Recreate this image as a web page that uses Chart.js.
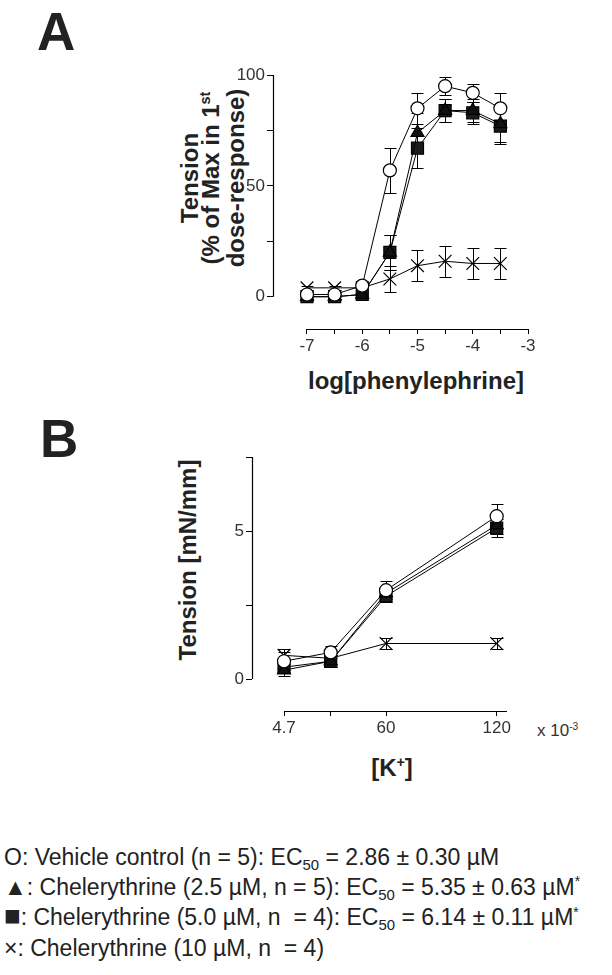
<!DOCTYPE html>
<html>
<head>
<meta charset="utf-8">
<script src="https://cdn.jsdelivr.net/npm/chart.js@4.4.0/dist/chart.umd.min.js"></script>
<style>
  html, body { margin: 0; padding: 0; background: #fff; }
  body { width: 612px; height: 975px; position: relative; overflow: hidden;
         font-family: "Liberation Sans", Arial, sans-serif; color: #000; }
  .abs { position: absolute; white-space: nowrap; }
  .letter { font-size: 53px; font-weight: bold; line-height: 1; color: #222; }
  .title { font-size: 24px; font-weight: bold; line-height: 1; color: #222; }
  .sup { font-size: 60%; position: relative; top: -0.6em; }
  .sub { font-size: 65%; position: relative; top: 0.35em; }
  .legend { left: 4px; top: 844px; font-size: 23px; line-height: 27.5px; color: #222; }
  canvas { position: absolute; left: 0; }
</style>
</head>
<body>

<div class="abs letter" style="left:37px; top:5px;">A</div>
<div class="abs letter" style="left:40px; top:412px;">B</div>

<!-- panel A y title, three lines rotated -->
<div class="abs title" style="left:212px; top:178px; line-height:21px; text-align:center;
     transform: translate(-50%, -50%) rotate(-90deg);">
  Tension<br>(% of Max in 1<span class="sup">st</span><br>dose-response)
</div>
<div class="abs title" style="left:416px; top:381px; transform: translate(-50%, -50%);">log[phenylephrine]</div>

<div class="abs title" style="left:188px; top:560px; transform: translate(-50%, -50%) rotate(-90deg);">Tension [mN/mm]</div>
<div class="abs title" style="left:392px; top:768px; transform: translate(-50%, -50%);">[K<span class="sup">+</span>]</div>
<div class="abs" style="left:537px; top:721px; font-size:17px; color:#333;">x 10<span class="sup">-3</span></div>

<canvas id="chartA" width="612" height="400" style="top:0;"></canvas>
<canvas id="chartB" width="612" height="400" style="top:400px;"></canvas>

<div class="abs legend">
  O: Vehicle control (n = 5): EC<span class="sub">50</span> = 2.86 ± 0.30 µM<br>
  ▲: Chelerythrine (2.5 µM, n = 5): EC<span class="sub">50</span> = 5.35 ± 0.63 µM<span class="sup">*</span><br>
  <span style="font-size:120%; line-height:0;">■</span>: Chelerythrine (5.0 µM, n&nbsp; = 4): EC<span class="sub">50</span> = 6.14 ± 0.11 µM<span class="sup">*</span><br>
  ×: Chelerythrine (10 µM, n&nbsp; = 4)
</div>

<script>
// ---- Panel A: phenylephrine dose-response ----
const logPE = [-7, -6.5, -6, -5.5, -5, -4.5, -4, -3.5];
const vehA = [1, 1, 5, 57, 85, 95, 92, 85];
const vehAErr = [1, 1, 2, 10, 7, 4, 4, 7];
const che25A = [0, 0, 1, 20, 74, 84, 84, 78];
const che25AErr = [1, 1, 1, 8, 9, 5, 5, 8];
const che50A = [0, 0, 1, 20, 67, 84, 83, 77];
const che50AErr = [1, 1, 1, 8, 9, 5, 5, 8];
const che10A = [4, 4, 4, 8, 14, 16, 15, 15];
const che10AErr = [1, 1, 1, 6, 7, 7, 7, 7];
const xTicksA = [-7, -6.5, -6, -5.5, -5, -4.5, -4, -3.5, -3];
const yTicksA = [0, 25, 50, 75, 100];

// ---- Panel B: KCl ----
const kConc = [4.7, 30, 60, 120];
const vehB = [0.6, 0.9, 3.0, 5.5];
const vehBErr = [0.3, 0.2, 0.3, 0.4];
const che25B = [0.3, 0.6, 2.9, 5.2];
const che25BErr = [0.2, 0.2, 0.2, 0.3];
const che50B = [0.4, 0.6, 2.8, 5.1];
const che50BErr = [0.2, 0.2, 0.2, 0.3];
const che10B = [0.8, 0.7, 1.2, 1.2];
const che10BErr = [0.2, 0.2, 0.2, 0.2];
const xTicksB = [4.7, 30, 60, 120];
const yTicksB = [0, 2.5, 5, 7.5];

// error bars drawn under the markers
const errorBarPlugin = {
    id: 'errorBars',
    beforeDatasetsDraw(chart) {
        const ctx = chart.ctx;
        const xs = chart.scales.x, ys = chart.scales.y;
        const cap = 6;
        ctx.save();
        ctx.strokeStyle = '#000';
        ctx.lineWidth = 1;
        chart.data.datasets.forEach(ds => {
            if (!ds.errors) return;
            ds.data.forEach((p, j) => {
                const e = ds.errors[j];
                if (!e) return;
                const x = Math.round(xs.getPixelForValue(p.x)) + 0.5;
                const yTop = Math.round(ys.getPixelForValue(p.y + e)) + 0.5;
                const yBot = Math.round(ys.getPixelForValue(p.y - e)) + 0.5;
                ctx.beginPath();
                ctx.moveTo(x, yTop); ctx.lineTo(x, yBot);
                ctx.moveTo(x - cap, yTop); ctx.lineTo(x + cap, yTop);
                ctx.moveTo(x - cap, yBot); ctx.lineTo(x + cap, yBot);
                ctx.stroke();
            });
        });
        ctx.restore();
    }
};

// detached axis lines (prism style), only over the given value ranges
const axisLinePlugin = {
    id: 'axisLines',
    afterDraw(chart, args, opts) {
        const ctx = chart.ctx;
        const xs = chart.scales.x, ys = chart.scales.y;
        const area = chart.chartArea;
        ctx.save();
        ctx.strokeStyle = '#000';
        ctx.lineWidth = 1.2;
        ctx.beginPath();
        const lx = Math.round(area.left) + 0.5;
        ctx.moveTo(lx, ys.getPixelForValue(opts.y[0]));
        ctx.lineTo(lx, ys.getPixelForValue(opts.y[1]));
        const by = Math.round(area.bottom) + 0.5;
        ctx.moveTo(xs.getPixelForValue(opts.x[0]), by);
        ctx.lineTo(xs.getPixelForValue(opts.x[1]), by);
        ctx.stroke();
        ctx.restore();
    }
};

function series(xv, yv, err, style) {
    return Object.assign({
        data: xv.map((x, i) => ({ x: x, y: yv[i] })),
        errors: err,
        borderColor: '#000',
        borderWidth: 1,
        pointBorderColor: '#000',
        pointBorderWidth: 1.2,
        fill: false,
        tension: 0
    }, style);
}

const circleStyle = { pointStyle: 'circle', pointRadius: 6.5, pointBackgroundColor: '#fff' };
const triStyle = { pointStyle: 'triangle', pointRadius: 7.5, pointBackgroundColor: '#111' };
const squareStyle = { pointStyle: 'rect', pointRadius: 8.5, pointBackgroundColor: '#1a1a1a' };
const crossStyle = { pointStyle: 'crossRot', pointRadius: 9, pointBackgroundColor: '#000' };

function makeChart(id, cfg) {
    const tickFont = { family: "'Liberation Sans', Arial, sans-serif", size: 17 };
    new Chart(document.getElementById(id), {
        type: 'line',
        data: {
            datasets: [
                series(cfg.x, cfg.veh, cfg.vehErr, circleStyle),
                series(cfg.x, cfg.c25, cfg.c25Err, triStyle),
                series(cfg.x, cfg.c50, cfg.c50Err, squareStyle),
                series(cfg.x, cfg.c10, cfg.c10Err, crossStyle)
            ]
        },
        options: {
            responsive: false,
            animation: false,
            events: [],
            layout: { padding: cfg.padding },
            plugins: {
                legend: { display: false },
                tooltip: { enabled: false },
                axisLines: { x: cfg.xLine, y: cfg.yLine }
            },
            scales: {
                x: {
                    type: 'linear',
                    min: cfg.xMin, max: cfg.xMax,
                    afterBuildTicks: s => { s.ticks = cfg.xTicks.map(v => ({ value: v })); },
                    afterFit: s => { s.height = 30; },
                    ticks: {
                        autoSkip: false, maxRotation: 0, padding: 2,
                        font: tickFont, color: '#333',
                        callback: v => cfg.xLabel(v)
                    },
                    grid: { drawOnChartArea: false, drawTicks: true, tickLength: 5, color: '#000', lineWidth: 1 },
                    border: { display: false }
                },
                y: {
                    type: 'linear',
                    min: cfg.yMin, max: cfg.yMax,
                    afterBuildTicks: s => { s.ticks = cfg.yTicks.map(v => ({ value: v })); },
                    afterFit: s => { s.width = 60; },
                    ticks: {
                        autoSkip: false, padding: 2,
                        font: tickFont, color: '#333',
                        callback: v => cfg.yLabel(v)
                    },
                    grid: { drawOnChartArea: false, drawTicks: true, tickLength: 6, color: '#000', lineWidth: 1 },
                    border: { display: false }
                }
            }
        },
        plugins: [errorBarPlugin, axisLinePlugin]
    });
}

makeChart('chartA', {
    x: logPE,
    veh: vehA, vehErr: vehAErr,
    c25: che25A, c25Err: che25AErr,
    c50: che50A, c50Err: che50AErr,
    c10: che10A, c10Err: che10AErr,
    xMin: -7.615, xMax: -3, yMin: -14.57, yMax: 102.3,
    xTicks: xTicksA, yTicks: yTicksA,
    xLabel: v => Number.isInteger(v) ? String(v) : '',
    yLabel: v => (v % 50 === 0) ? String(v) : '',
    xLine: [-7, -3], yLine: [0, 100],
    padding: { left: 213, right: 84, top: 70, bottom: 41 }
});

makeChart('chartB', {
    x: kConc,
    veh: vehB, vehErr: vehBErr,
    c25: che25B, c25Err: che25BErr,
    c50: che50B, c50Err: che50BErr,
    c10: che10B, c10Err: che10BErr,
    xMin: -12.65, xMax: 125.6, yMin: -1.08, yMax: 7.5,
    xTicks: xTicksB, yTicks: yTicksB,
    xLabel: v => (v === 30) ? '' : String(v),
    yLabel: v => (v % 5 === 0) ? String(v) : '',
    xLine: [4.7, 125.6], yLine: [0, 7.5],
    padding: { left: 192, right: 105, top: 57, bottom: 59 }
});
</script>
</body>
</html>
